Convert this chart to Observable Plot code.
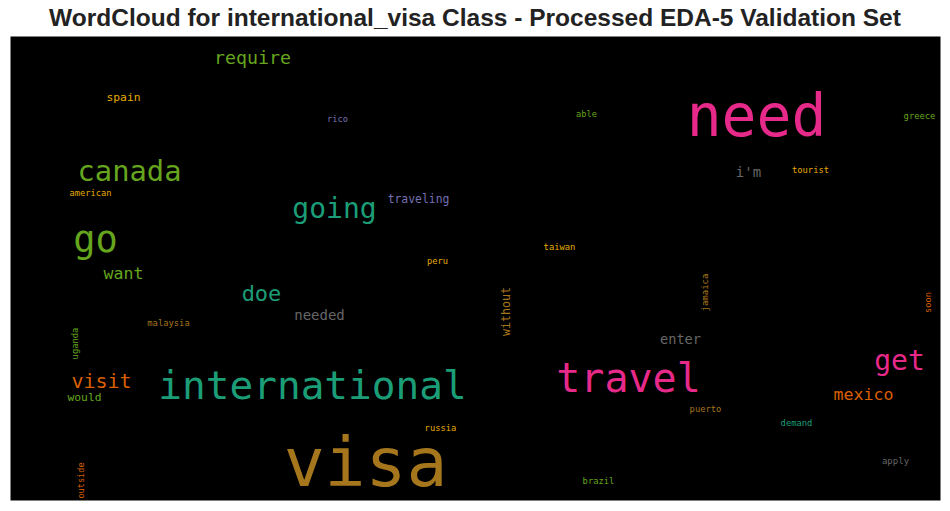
<!DOCTYPE html>
<html>
<head>
<meta charset="utf-8">
<script src="https://cdn.jsdelivr.net/npm/d3@7"></script>
<script src="https://cdn.jsdelivr.net/npm/@observablehq/plot@0.6"></script>
<style>
  html, body { margin: 0; padding: 0; background: #fff; }
  #title { box-sizing: border-box; height: 36px; padding-top: 4px; line-height: 28px; text-align: center; font-family: "Liberation Sans", Arial, sans-serif; font-weight: bold; font-size: 24.5px; color: #222; white-space: nowrap; }
  #chart svg { display: block; }
</style>
</head>
<body>
<div id="title">WordCloud for international_visa Class - Processed EDA-5 Validation Set</div>
<div id="chart"></div>
<script>
// Words and their relative weight (rendered font size in the cloud)
const words = ["need","visa","international","travel","go","canada","going","get","require","doe","want","visit","would","mexico","enter","needed","i'm","traveling","rico","spain","american","able","greece","tourist","taiwan","peru","russia","brazil","puerto","demand","apply","malaysia","uganda","outside","without","jamaica","soon"];
const weights = [58,68,39.4,40,37,28.8,28,28,18.3,22,16.6,20,11.3,16.6,13.6,14,14,11.4,8.7,11.3,8.7,8.7,8.8,8.8,8.8,8.7,8.8,8.8,8.8,8.8,9,8.8,8.8,8.6,11.6,9,8.7];
// Cloud layout: word centre in the 930 x 464 canvas, and orientation
const cloudX = [746,355,302,618,85,119,324,889,242,251,113,91,74,853,670,309,738,408,327,113,80,576,909,800,549,427,430,588,695,786,885,158,65,71,496,695,918];
const cloudY = [81,428,350,343,204,135,173,325,22,257,237,345,361,358,303,279,136,163,83,61,157,78,80,134,211,225,392,445,373,387,425,287,307,444,275,256,266];
const vertical = [0,0,0,0,0,0,0,0,0,0,0,0,0,0,0,0,0,0,0,0,0,0,0,0,0,0,0,0,0,0,0,0,1,1,1,1,1];
// Colour group of each word (index into the Dark2 palette)
const groups = ["G4","G7","G1","G4","G5","G5","G1","G4","G5","G1","G5","G2","G5","G2","G8","G8","G8","G3","G3","G6","G6","G5","G5","G6","G6","G6","G6","G5","G7","G1","G8","G7","G5","G2","G7","G7","G2"];
const groupDomain = ["G1","G2","G3","G4","G5","G6","G7","G8"];

const data = words.map((w, i) => ({word: w, weight: weights[i], cx: cloudX[i], cy: cloudY[i], rot: vertical[i] ? -90 : 0, group: groups[i]}));

const chart = Plot.plot({
  width: 950,
  height: 475,
  marginLeft: 10,
  marginRight: 10,
  marginTop: 0,
  marginBottom: 11,
  x: {domain: [0, 930], axis: null},
  y: {domain: [0, 464], reverse: true, axis: null},
  color: {type: "ordinal", domain: groupDomain, range: d3.schemeDark2},
  style: {background: "white"},
  marks: [
    Plot.frame({fill: "black"}),
    Plot.text(data, {
      x: "cx", y: "cy", text: "word",
      fontSize: "weight",
      rotate: "rot",
      fill: "group",
      fontFamily: "DejaVu Sans Mono",
      textAnchor: "middle",
      lineAnchor: "middle"
    })
  ]
});
document.getElementById("chart").appendChild(chart);
</script>
</body>
</html>
